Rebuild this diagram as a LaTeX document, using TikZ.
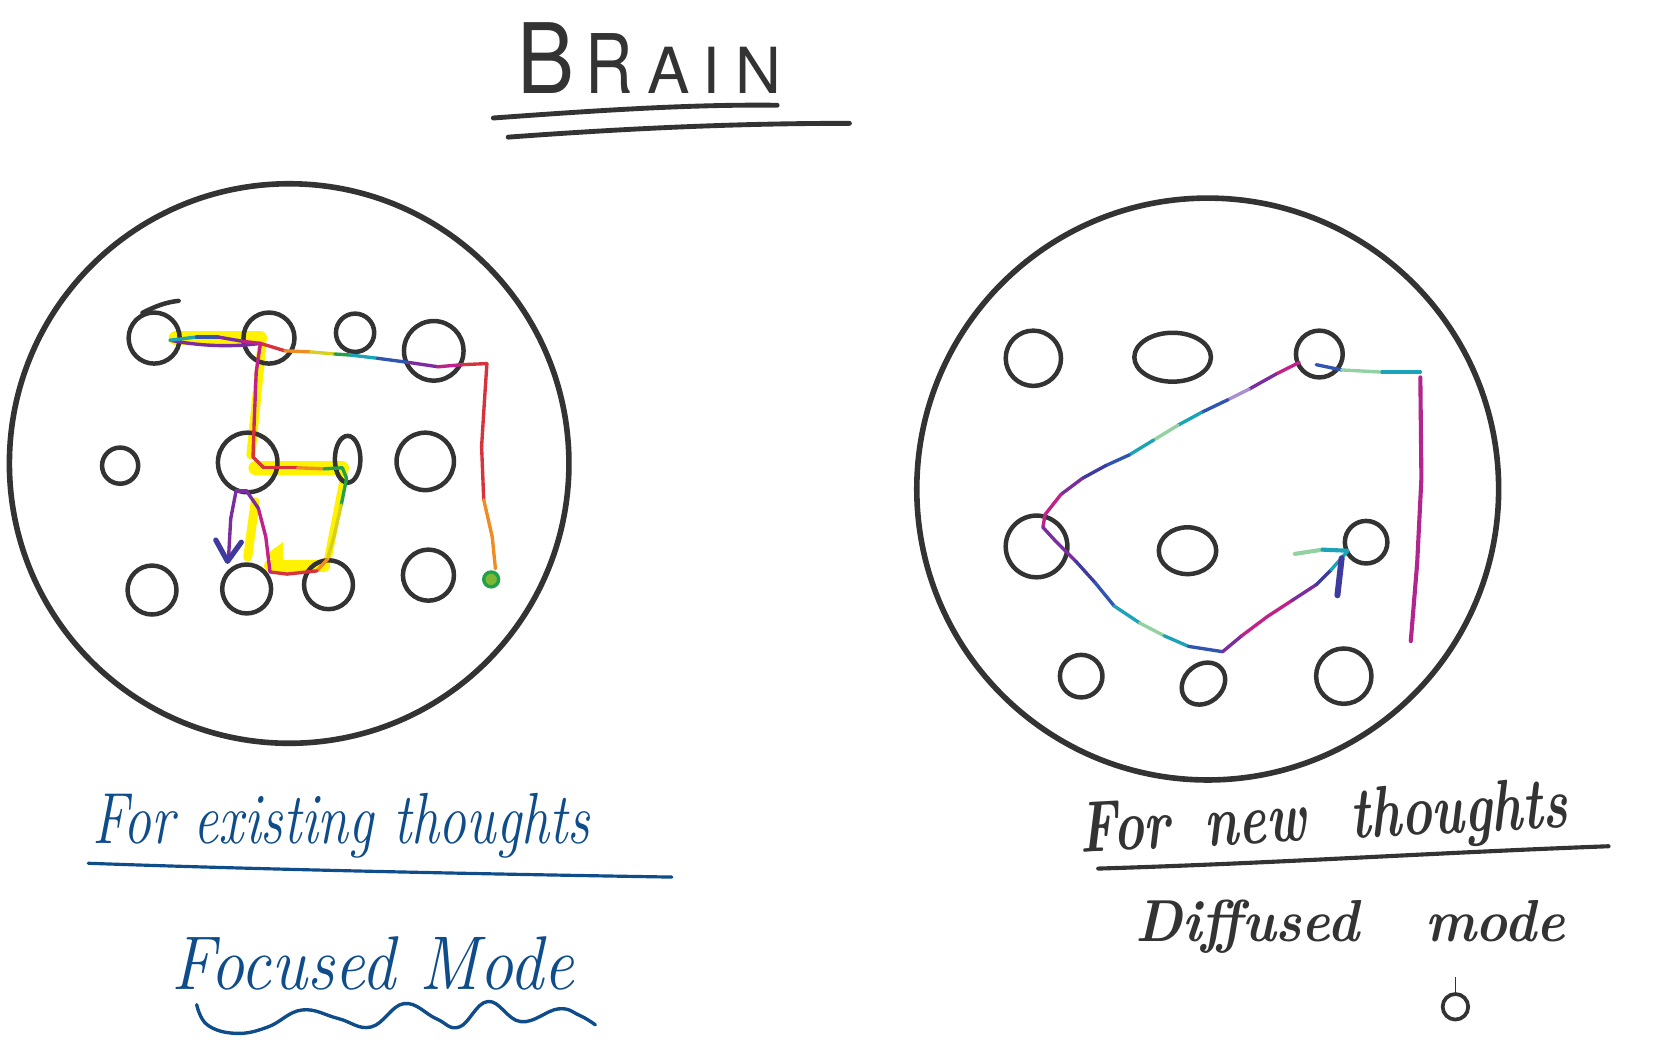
\documentclass[tikz,border=0pt]{standalone}
\usepackage{fontspec}
\usepackage{graphicx}
\newfontfamily\titlehand{TeX Gyre Heros}
\usetikzlibrary{shapes.geometric}

\definecolor{ink}{HTML}{333333}
\definecolor{penblue}{HTML}{0F4C8A}
\definecolor{marker}{HTML}{FFF200}
\definecolor{trteal}{HTML}{1BA3B8}
\definecolor{trblue}{HTML}{2F55B0}
\definecolor{trindigo}{HTML}{3E3A9E}
\definecolor{trpurple}{HTML}{7B2C9E}
\definecolor{trmagenta}{HTML}{C0228A}
\definecolor{trred}{HTML}{D8323A}
\definecolor{trorange}{HTML}{F08C24}
\definecolor{tryellow}{HTML}{D8D020}
\definecolor{trgreen}{HTML}{22A04A}
\definecolor{trmint}{HTML}{92D2A2}
\definecolor{trlilac}{HTML}{A890D0}

\tikzset{
  brain/.style={circle, draw=ink, line width=1.5pt, inner sep=0pt},
  cell/.style={circle, draw=ink, line width=1.2pt, inner sep=0pt, minimum size=#1},
  cell/.default=0.4cm,
  oval/.style 2 args={ellipse, draw=ink, line width=1.2pt, inner sep=0pt, minimum width=#1, minimum height=#2},
  trail/.style={line width=0.9pt, line cap=round, line join=round},
  glow/.style={draw=marker, line width=#1, line cap=round},
  glow/.default=3pt,
  hand/.style={inner sep=0pt, anchor=base west},
}

\begin{document}
\begin{tikzpicture}[x=0.01cm, y=-0.01cm]
    \useasboundingbox[fill=white] (0,0) rectangle (1568,982);

    % highlighter
    \draw[glow=3.6pt] (165,318) -- (245,318);
    \draw[glow=2.4pt] (246,328) -- (236,428);
    \draw[glow=3.6pt] (240,440) -- (322,440);
    \draw[glow=2pt] (324,446) -- (308,528);
    \draw[glow=3.2pt] (305,532) -- (254,532);
    \draw[glow=2.4pt] (240,472) -- (233,524);
    \fill[marker] (250,522) -- (266,510) -- (266,534) -- cycle;

    \node[brain, minimum size=5.26cm] (focus) at (272,436) {};
    \node[brain, minimum size=5.47cm] (diffuse) at (1136,460) {};

    \node[cell=0.48cm] (l11) at (145,318) {};
    \node[cell=0.48cm] (l12) at (253,318) {};
    \node[cell=0.36cm] (l13) at (334,313) {};
    \node[cell=0.56cm] (l14) at (408,330) {};
    \node[cell=0.34cm] (l21) at (113,438) {};
    \node[cell=0.56cm] (l22) at (233,435) {};
    \node[oval={0.24cm}{0.44cm}] (l23) at (327,432) {};
    \node[cell=0.54cm] (l24) at (400,434) {};
    \node[cell=0.46cm] (l31) at (143,555) {};
    \node[cell=0.46cm] (l32) at (232,554) {};
    \node[cell=0.46cm] (l33) at (309,550) {};
    \node[cell=0.48cm] (l34) at (403,541) {};
    \draw[ink, line width=1.2pt, line cap=round] (l11.115) .. controls (148,287) and (158,284) .. (168,283);

    \node[cell=0.52cm] (r11) at (972,337) {};
    \node[oval={0.72cm}{0.46cm}] (r12) at (1103,336) {};
    \node[cell=0.44cm] (r13) at (1241,333) {};
    \node[cell=0.58cm] (r21) at (975,514) {};
    \node[oval={0.54cm}{0.44cm}] (r22) at (1117,518) {};
    \node[cell=0.40cm] (r23) at (1285,510) {};
    \node[cell=0.40cm] (r31) at (1017,636) {};
    \node[oval={0.44cm}{0.36cm}, rotate=40] (r32) at (1132,643) {};
    \node[cell=0.52cm] (r33) at (1264,636) {};

    % focused trail
    \coordinate (lstart) at (160,320);
    \coordinate (ljoin) at (245,323);
    \draw[trail, trpurple] (lstart) .. controls (185,325) and (215,327) .. (ljoin);
    \foreach \q/\c [remember=\q as \p (initially lstart)] in {{185,317}/trteal, {205,317}/trblue, {228,321}/trpurple, {245,323}/trmagenta, {268,330}/trred, {292,331}/trorange, {315,333}/tryellow, {330,334}/trgreen, {355,337}/trteal, {385,341}/trblue, {412,345}/trpurple, {435,343}/trmagenta, {458,342}/trred, {456,372}/trred, {453,420}/trred, {455,470}/trred, {463,505}/trorange, {466,535}/trorange}
        \draw[trail, \c] (\p) -- (\q);
    \fill[tryellow!50!trgreen] (462,545) circle[radius=0.07cm];
    \draw[trail, trgreen] (462,545) circle[radius=0.07cm];
    \foreach \q/\c [remember=\q as \p (initially ljoin)] in {{241,350}/trmagenta, {239,400}/trmagenta, {238,430}/trred, {248,440}/trred, {280,440}/trred, {305,441}/trorange, {322,440}/trgreen, {326,450}/trgreen, {321,475}/trgreen, {314,505}/tryellow, {308,526}/tryellow, {298,537}/trorange, {270,540}/trred, {254,538}/trred, {250,505}/trmagenta, {243,478}/trmagenta, {232,462}/trpurple, {222,462}/trpurple, {217,488}/trpurple, {215,524}/trpurple}
        \draw[trail, \c] (\p) -- (\q);
    \draw[trail, trindigo, line width=1.4pt] (203,508) -- (214,528) -- (227,510);

    % diffused trail
    \coordinate (rstart) at (1222,341);
    \foreach \q/\c [remember=\q as \p (initially rstart)] in {{1200,352}/trmagenta, {1175,366}/trpurple, {1155,376}/trlilac, {1130,388}/trblue, {1108,400}/trteal, {1085,414}/trmint, {1062,428}/trteal, {1040,438}/trblue, {1018,450}/trindigo, {998,465}/trpurple, {983,484}/trmagenta, {981,496}/trmagenta, {992,508}/trpurple, {1012,528}/trpurple, {1030,548}/trindigo, {1048,570}/trblue, {1072,586}/trteal, {1095,598}/trmint, {1118,608}/trteal, {1150,613}/trblue, {1168,598}/trpurple, {1192,580}/trmagenta, {1215,565}/trmagenta, {1238,550}/trpurple, {1252,536}/trindigo, {1268,518}/trteal}
        \draw[trail, \c] (\p) -- (\q);
    \draw[trail, trmint, line width=1.1pt] (1218,521) -- (1244,517);
    \draw[trail, trteal, line width=1.1pt] (1244,517) -- (1267,518);
    \draw[trail, trindigo, line width=1.6pt] (1262,525) -- (1258,560);
    \coordinate (rside) at (1238,343);
    \foreach \q/\c [remember=\q as \p (initially rside)] in {{1262,348}/trblue, {1300,350}/trmint, {1336,350}/trteal}
        \draw[trail, \c] (\p) -- (\q);
    \draw[trail, trmagenta!80!trpurple, line width=1.1pt] (1336,355) -- (1337,450) -- (1333,530) -- (1327,603);

    % title
    \node[hand, ink] (title) at (486,88) {\titlehand\fontsize{26pt}{30pt}\selectfont\scalebox{0.88}[1]{B}\hspace{0.1cm}\fontsize{22pt}{24pt}\selectfont\scalebox{0.8}[1]{R}\hspace{0.14cm}\fontsize{17pt}{18pt}\selectfont A\hspace{0.12cm}I\hspace{0.14cm}N};
    \draw[ink, line width=1.3pt, line cap=round] (464,111) .. controls (560,104) and (650,98) .. (731,99);
    \draw[ink, line width=1.3pt, line cap=round] (478,129) .. controls (600,120) and (700,116) .. (799,116);

    % labels
    \node[hand, penblue] (existing) at (86,793) {\scalebox{1}[1.3]{\itshape\fontsize{14.9pt}{17pt}\selectfont For existing thoughts}};
    \draw[penblue, line width=0.85pt, line cap=round] (83,812) .. controls (250,818) and (450,822) .. (632,825);
    \node[hand, penblue] (focused) at (161,931) {\scalebox{1}[1.12]{\itshape\fontsize{18.2pt}{20pt}\selectfont Focused Mode}};
    \draw[penblue, line width=0.9pt, line cap=round] plot[smooth, tension=0.7] coordinates {(185,945) (195,964) (222,972) (252,966) (284,950) (318,958) (349,966) (380,944) (410,958) (432,966) (459,942) (490,961) (525,949) (545,955) (560,964)};

    \node[hand, ink, rotate=3] (newthoughts) at (1016,802) {\scalebox{1}[1.4]{\bfseries\itshape\fontsize{13.9pt}{16pt}\selectfont For\hspace{0.33cm}new\hspace{0.42cm}thoughts}};
    \draw[ink, line width=1.1pt, line cap=round] (1033,817) .. controls (1200,812) and (1350,802) .. (1513,796);
    \node[hand, ink] (diffused) at (1067,886) {\scalebox{1}[1.1]{\bfseries\itshape\fontsize{14.4pt}{17pt}\selectfont Diffused\hspace{0.62cm}mode}};

    \node[cell=0.24cm, line width=1pt] (dot) at (1369,947) {};
    \draw[ink, line width=0.3pt] (dot.north) -- ++(0,-14);
\end{tikzpicture}
\end{document}
